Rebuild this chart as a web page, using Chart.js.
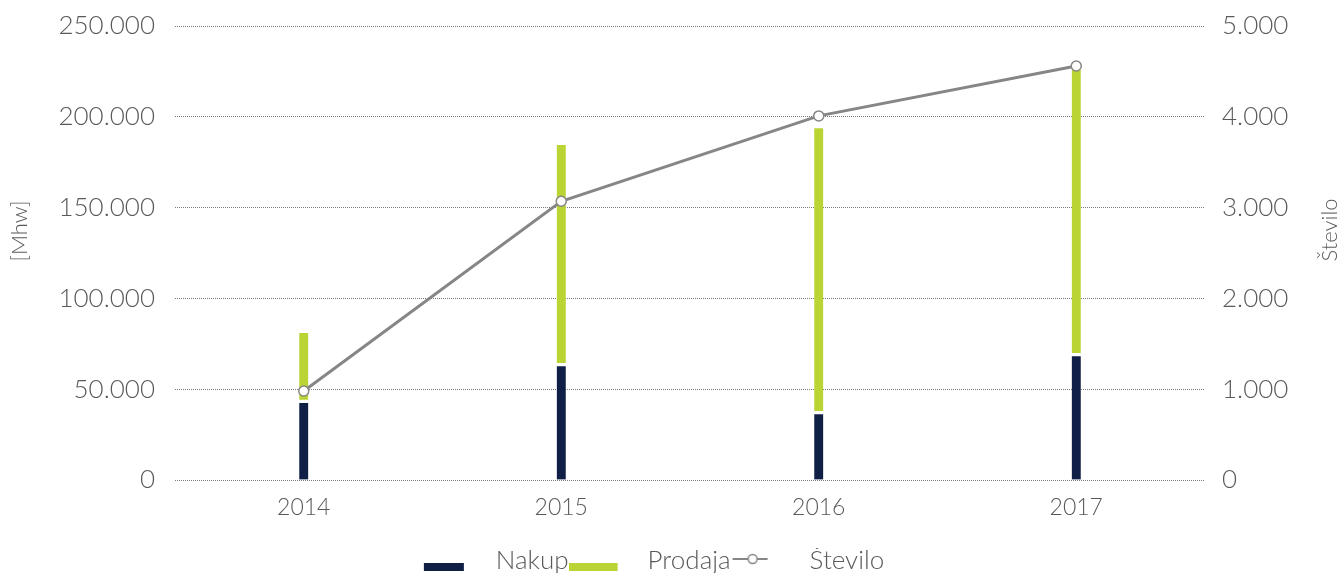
<!DOCTYPE html>
<html><head><meta charset="utf-8">
<script src="https://cdn.jsdelivr.net/npm/chart.js@4.4.1/dist/chart.umd.min.js"></script>
<style>html,body{margin:0;padding:0;background:#fff;overflow:hidden}</style>
</head><body>
<canvas id="c" width="1343" height="573"></canvas>
<script>
const categories = ['2014', '2015', '2016', '2017'];
const nakup = [43300, 63500, 37100, 69000];
const prodaja = [37700, 121000, 156600, 156800];
const stevilo = [980, 3070, 4010, 4560];
const leftTicks = ['0', '50.000', '100.000', '150.000', '200.000', '250.000'];
const rightTicks = ['0', '1.000', '2.000', '3.000', '4.000', '5.000'];
const seriesNames = ['Nakup', 'Prodaja', 'Število'];
const leftTitle = '[Mhw]';
const rightTitle = 'Število';

const FONT = 'Lato';
const WEIGHT = '300';
const TEXT = '#58595b';
const NAVY = '#0f1f45';
const LIME = '#b9d433';
const LINE = '#868686';

function icon(kind) {
  const c = document.createElement('canvas');
  c.width = 66; c.height = 30;
  const g = c.getContext('2d');
  if (kind === 0) { g.fillStyle = NAVY; g.fillRect(7, 17, 40, 8); }
  else if (kind === 1) { g.fillStyle = LIME; g.fillRect(0, 17, 49, 8); }
  else {
    g.strokeStyle = LINE; g.lineWidth = 2;
    g.beginPath(); g.moveTo(2, 13); g.lineTo(37, 13); g.stroke();
    g.fillStyle = '#fff'; g.lineWidth = 1.5;
    g.beginPath(); g.arc(22, 13, 4.5, 0, Math.PI * 2); g.fill(); g.stroke();
  }
  return c;
}

function noPad(s) { s.paddingTop = 0; s.paddingBottom = 0; }

function build() {
  const icons = [icon(0), icon(1), icon(2)];
  const titlePlugin = {
    id: 'axisTitles',
    afterLayout(chart) {
      if (chart.legend) { chart.legend.top += 11; chart.legend.bottom += 11; }
    },
    afterDraw(chart) {
      const ctx = chart.ctx;
      ctx.save();
      ctx.font = WEIGHT + ' 22px ' + FONT;
      ctx.fillStyle = TEXT;
      ctx.textAlign = 'center';
      ctx.textBaseline = 'middle';
      ctx.translate(20, 231); ctx.rotate(-Math.PI / 2); ctx.fillText(leftTitle, 0, 0);
      ctx.setTransform(1, 0, 0, 1, 0, 0);
      ctx.translate(1330, 230); ctx.rotate(-Math.PI / 2); ctx.fillText(rightTitle, 0, 0);
      ctx.restore();
    }
  };

  new Chart(document.getElementById('c'), {
    data: {
      labels: categories,
      datasets: [
        { type: 'bar', label: seriesNames[0], data: nakup, yAxisID: 'y', stack: 's', order: 1,
          backgroundColor: NAVY, borderColor: '#fff', borderSkipped: false,
          borderWidth: { top: 2, bottom: 0, left: 0, right: 0 }, barThickness: 9 },
        { type: 'bar', label: seriesNames[1], data: prodaja, yAxisID: 'y', stack: 's', order: 1,
          backgroundColor: LIME, borderColor: '#fff', borderSkipped: false,
          borderWidth: { top: 0, bottom: 2, left: 0, right: 0 }, barThickness: 9 },
        { type: 'line', label: seriesNames[2], data: stevilo, yAxisID: 'y1', order: 0,
          borderColor: LINE, borderWidth: 3, tension: 0,
          pointRadius: 5, pointBackgroundColor: '#fff', pointBorderColor: LINE, pointBorderWidth: 1.5 }
      ]
    },
    options: {
      responsive: false,
      animation: false,
      devicePixelRatio: 1,
      layout: { autoPadding: false, padding: { top: 26, right: 42, bottom: 0, left: 0 } },
      plugins: {
        tooltip: { enabled: false },
        legend: {
          position: 'bottom',
          labels: {
            usePointStyle: true,
            pointStyleWidth: 66,
            padding: 0,
            color: TEXT,
            font: { family: FONT, size: 26, weight: WEIGHT },
            generateLabels: () => seriesNames.map((name, i) => ({
              text: name, pointStyle: icons[i], fillStyle: 'rgba(0,0,0,0)',
              strokeStyle: 'rgba(0,0,0,0)', lineWidth: 0, hidden: false, fontColor: TEXT,
              datasetIndex: i
            }))
          }
        }
      },
      scales: {
        x: {
          stacked: true,
          grid: { display: false },
          border: { display: false },
          ticks: { color: TEXT, font: { family: FONT, size: 23, weight: WEIGHT }, padding: 6 },
          afterFit(s) { s.height = 57; s.paddingLeft = 0; s.paddingRight = 0; }
        },
        y: {
          stacked: true,
          position: 'left',
          min: 0, max: 250000,
          ticks: { stepSize: 50000, padding: 20, color: TEXT,
                   font: { family: FONT, size: 26, weight: WEIGHT },
                   callback: (v, i) => leftTicks[i] },
          grid: { color: '#7a7a7a', lineWidth: 1, drawTicks: false },
          border: { display: false, dash: [1, 1] },
          afterFit(s) { s.width = 175; noPad(s); }
        },
        y1: {
          position: 'right',
          min: 0, max: 5000,
          ticks: { stepSize: 1000, padding: 17, color: TEXT,
                   font: { family: FONT, size: 26, weight: WEIGHT },
                   callback: (v, i) => rightTicks[i] },
          grid: { display: false, drawTicks: false },
          border: { display: false },
          afterFit(s) { s.width = 96; noPad(s); }
        }
      }
    },
    plugins: [titlePlugin]
  });
}

const loads = [document.fonts.load(WEIGHT + ' 26px ' + FONT), document.fonts.load(WEIGHT + ' 22px ' + FONT)];
Promise.all(loads).then(build, build);
</script>
</body></html>
